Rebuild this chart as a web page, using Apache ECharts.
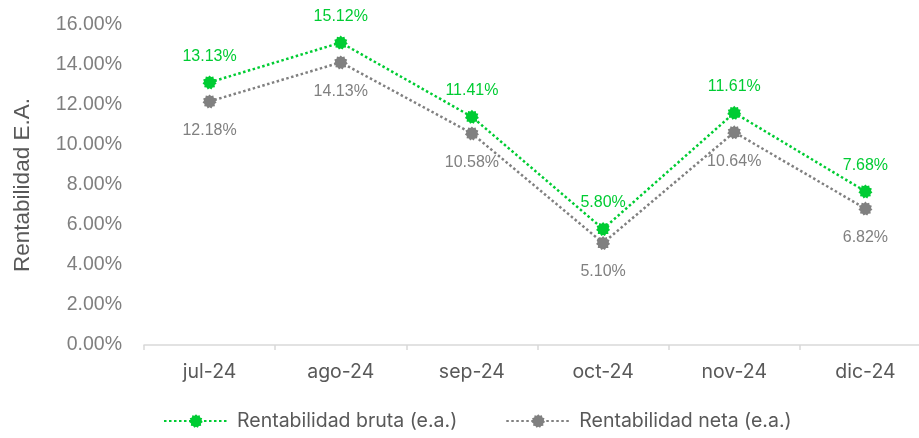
<!DOCTYPE html>
<html><head><meta charset="utf-8">
<script src="https://cdn.jsdelivr.net/npm/echarts@6/dist/echarts.min.js"></script>
<style>html,body{margin:0;padding:0;background:#fff;overflow:hidden;width:919px;height:438px}#c{width:931px;height:438px}</style>
</head><body><div id="c"></div>
<script>
const categories = ['jul-24','ago-24','sep-24','oct-24','nov-24','dic-24'];
const bruta = [13.13, 15.12, 11.41, 5.80, 11.61, 7.68];
const neta = [12.18, 14.13, 10.58, 5.10, 10.64, 6.82];
const yTicks = [0,2,4,6,8,10,12,14,16];

const GREEN = '#00CC33';
const GRAY = '#808080';
const gear = 'path://M50,0 L61,12 L77,8 L80,24 L96,29 L90,45 L100,58 L86,68 L88,85 L71,86 L63,100 L50,92 L37,100 L29,86 L12,85 L14,68 L0,58 L10,45 L4,29 L20,24 L23,8 L39,12 Z';

const chart = echarts.init(document.getElementById('c'));
chart.setOption({
  animation: false,
  grid: {left: 144, top: 25, right: 0, height: 320, containLabel: false},
  legend: {
    bottom: 2, left: 158, itemGap: 48, itemWidth: 64, itemHeight: 17,
    textStyle: {fontFamily: 'Inter, sans-serif', fontSize: 19.5, color: '#595959', padding: [0,0,0,4]},
    data: ['Rentabilidad bruta (e.a.)', 'Rentabilidad neta (e.a.)']
  },
  xAxis: {
    type: 'category', data: categories, boundaryGap: true,
    axisLine: {lineStyle: {color: '#D9D9D9', width: 1.5}},
    axisTick: {show: true, length: 5, lineStyle: {color: '#D9D9D9', width: 1.5}},
    axisLabel: {fontFamily: 'Inter, sans-serif', fontSize: 19.5, color: '#595959', margin: 17}
  },
  yAxis: {
    type: 'value', min: yTicks[0], max: yTicks[yTicks.length-1], interval: 2,
    name: 'Rentabilidad E.A.', nameLocation: 'middle', nameGap: 110, nameRotate: 90,
    nameTextStyle: {fontFamily: 'Liberation Sans, Arial, sans-serif', fontSize: 22.5, color: '#595959'},
    splitLine: {show: false}, axisLine: {show: false}, axisTick: {show: false},
    axisLabel: {fontFamily: 'Liberation Sans, Arial, sans-serif', fontSize: 19.5, color: '#7F7F7F', margin: 22,
      formatter: v => v.toFixed(2) + '%'}
  },
  series: [
    {
      name: 'Rentabilidad bruta (e.a.)', type: 'line', data: bruta,
      symbol: gear, symbolSize: 14,
      itemStyle: {color: GREEN},
      lineStyle: {color: GREEN, width: 2.5, type: [2.5, 2.5]},
      label: {show: true, position: 'top', distance: 11, color: GREEN, fontSize: 16,
        fontFamily: 'Liberation Sans, Arial, sans-serif', formatter: p => p.value.toFixed(2) + '%'},
      z: 3
    },
    {
      name: 'Rentabilidad neta (e.a.)', type: 'line', data: neta,
      symbol: gear, symbolSize: 14,
      itemStyle: {color: GRAY},
      lineStyle: {color: GRAY, width: 2.5, type: [2.5, 2.5]},
      label: {show: true, position: 'bottom', distance: 14, color: GRAY, fontSize: 16,
        fontFamily: 'Liberation Sans, Arial, sans-serif', formatter: p => p.value.toFixed(2) + '%'},
      z: 2
    }
  ]
});
</script></body></html>
